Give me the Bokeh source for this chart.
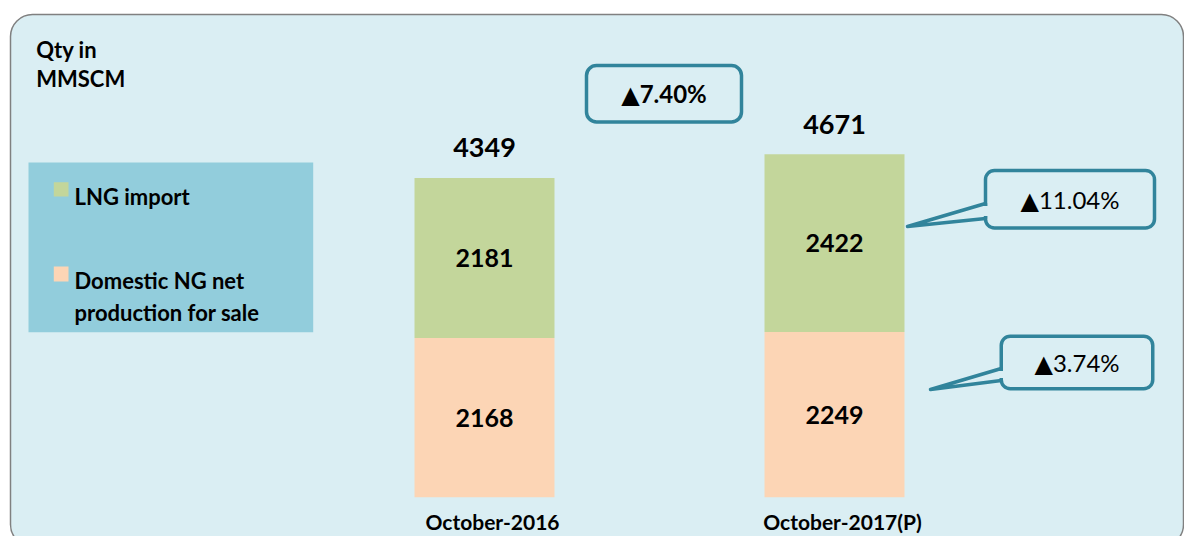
from bokeh.plotting import figure
from bokeh.models import Range1d
from bokeh.core.properties import value
from bokeh.embed import file_html
from bokeh.resources import INLINE

# ---------------- data ----------------
categories = ["October-2016", "October-2017(P)"]
domestic = [2168, 2249]
lng = [2181, 2422]
totals = [4349, 4671]
legend_lng = ["LNG import"]
legend_domestic = ["Domestic NG net", "production for sale"]
change_total = "▲7.40%"
change_lng = "▲11.04%"
change_domestic = "▲3.74%"
unit_label = ["Qty in", "MMSCM"]

# ---------------- colours ----------------
PANEL = "#DAEEF3"
LEGEND_BG = "#92CDDC"
LNG_C = "#C3D69B"
DOM_C = "#FCD5B5"
TEAL = "#31849B"

# ---------------- layout (pixels, figure space) ----------------
W, H = 1184, 536
BASE = 496.7    # px from top where value 0 sits
K = 0.0734      # px per MMSCM
X0 = 484.0      # px of first category centre
STEP = 350.0    # px between category centres
BAR_W = 140.0


def dx(px):
    return (px - X0) / STEP


def dy(py):
    return (BASE - py) / K


p = figure(width=W, height=H, output_backend="svg", toolbar_location=None,
           x_range=Range1d(dx(0), dx(W)), y_range=Range1d(dy(H), dy(0)),
           x_axis_location=None, y_axis_location=None, title=None,
           min_border=0, min_border_left=0, min_border_right=0,
           min_border_top=0, min_border_bottom=0,
           outline_line_color=None, background_fill_color="white",
           border_fill_color="white")
p.grid.visible = False

FONT = value("Lato")
FONT_SYM = value("Lato, 'DejaVu Sans'")

# panel
p.quad(left=dx(10), right=dx(1183), top=dy(14), bottom=dy(546),
       fill_color=PANEL, line_color="#808080", line_width=1.5, border_radius=22)

# unit label
p.text(x=[dx(35.7)] * 2, y=[dy(49), dy(78)], text=unit_label,
       text_font=FONT, text_font_style="bold", text_font_size="22px",
       text_color="black", text_baseline="alphabetic", text_align="left")

# legend box
p.quad(left=dx(28), right=dx(312.7), top=dy(162), bottom=dy(331.7),
       fill_color=LEGEND_BG, line_color=None)
p.quad(left=[dx(53.3)] * 2, right=[dx(68)] * 2, top=[dy(181.7), dy(266)],
       bottom=[dy(196), dy(281)], fill_color=[LNG_C, DOM_C], line_color=None)
p.text(x=[dx(74)], y=[dy(196)], text=legend_lng, text_font=FONT,
       text_font_style="bold", text_font_size="22px", text_color="black",
       text_baseline="alphabetic", text_align="left")
p.text(x=[dx(74)] * 2, y=[dy(280), dy(311.7)], text=legend_domestic, text_font=FONT,
       text_font_style="bold", text_font_size="22px", text_color="black",
       text_baseline="alphabetic", text_align="left")

# bars
xs = list(range(len(categories)))
stack_top = [d + l for d, l in zip(domestic, lng)]
p.vbar(x=xs, width=BAR_W / STEP, bottom=0, top=domestic, fill_color=DOM_C, line_color=None)
p.vbar(x=xs, width=BAR_W / STEP, bottom=domestic, top=stack_top, fill_color=LNG_C, line_color=None)

# segment labels
p.text(x=xs, y=[d / 2 for d in domestic], text=[str(d) for d in domestic],
       text_font=FONT, text_font_style="bold", text_font_size="25px",
       text_align="center", text_baseline="middle", text_color="black")
p.text(x=xs, y=[d + l / 2 for d, l in zip(domestic, lng)], text=[str(l) for l in lng],
       text_font=FONT, text_font_style="bold", text_font_size="25px",
       text_align="center", text_baseline="middle", text_color="black")
# totals
p.text(x=xs, y=totals, text=[str(t) for t in totals], y_offset=-30,
       text_font=FONT, text_font_style="bold", text_font_size="27px",
       text_align="center", text_baseline="alphabetic", text_color="black")
# categories (kept inside the 536px canvas)
p.text(x=xs, y=[0] * len(xs), text=categories, x_offset=8, y_offset=24,
       text_font=FONT, text_font_style="bold", text_font_size="21px",
       text_align="center", text_baseline="alphabetic", text_color="black")


# callouts
def callout(l, t, r, b, txt, radius, bold, tail=None):
    p.quad(left=dx(l), right=dx(r), top=dy(t), bottom=dy(b), fill_color=PANEL,
           line_color=TEAL, line_width=3.5, border_radius=radius)
    if tail is not None:
        (y1, tx, ty, y2) = tail
        p.patch(x=[dx(l), dx(tx), dx(l)], y=[dy(y1), dy(ty), dy(y2)], fill_color=PANEL,
                line_color=TEAL, line_width=3.5, line_join="round")
        p.quad(left=dx(l - 2.5), right=dx(l + 2.5), top=dy(y1 + 2.5), bottom=dy(y2 - 2.5),
               fill_color=PANEL, line_color=None)
    p.text(x=[dx((l + r) / 2)], y=[dy((t + b) / 2)], text=[txt], text_font=FONT_SYM,
           text_font_style="bold" if bold else "normal", text_font_size="24px",
           text_align="center", text_baseline="middle", text_color="black")


callout(586, 65, 741, 121.5, change_total, 10, True)
callout(985, 170, 1154, 227.5, change_lng, 9, False, tail=(203, 907, 226, 218))
callout(1000.75, 335.75, 1152.25, 388.25, change_domestic, 9, False, tail=(368, 930, 389, 380))

open("out.html", "w").write(file_html(p, INLINE))
